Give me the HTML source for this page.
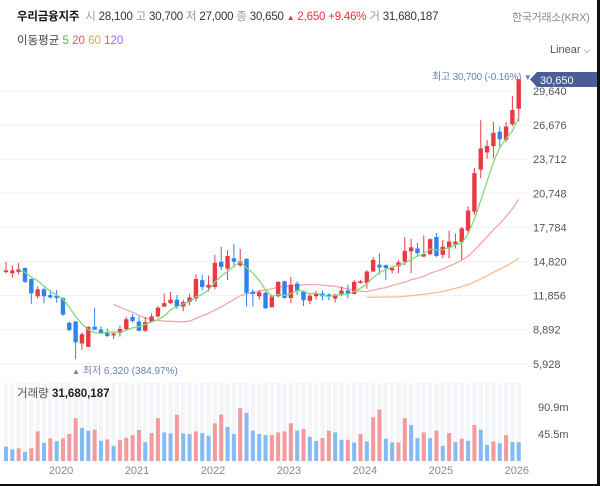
<!DOCTYPE html>
<html><head><meta charset="utf-8">
<style>
html,body{margin:0;padding:0;background:#fff;}
body{width:600px;height:486px;position:relative;overflow:hidden;font-family:"Liberation Sans","Noto Sans CJK KR",sans-serif;}
.t{position:absolute;white-space:nowrap;z-index:2;}
svg{position:absolute;left:0;top:0;z-index:1;}
</style></head>
<body>
<div class="t" style="left:17px;top:8px;font-size:11.5px;color:#333;letter-spacing:-0.2px;">
<b style="color:#111;">우리금융지주</b>
&nbsp;<span style="color:#999">시</span> 28,100 <span style="color:#999">고</span> 30,700 <span style="color:#999">저</span> 27,000 <span style="color:#999">종</span> 30,650 <span style="color:#e8323c"><span style="font-size:8px">▲</span> 2,650 +9.46%</span> <span style="color:#999">거</span> 31,680,187</div>
<div class="t" style="left:512px;top:9px;font-size:11px;color:#8a8a8a;letter-spacing:-0.3px;">한국거래소(KRX)</div>
<div class="t" style="left:17px;top:32px;font-size:11.5px;color:#444;">이동평균 <span style="color:#44c244">5</span> <span style="color:#f0555a">20</span> <span style="color:#f39a4a">60</span> <span style="color:#9b6bf0">120</span></div>
<div class="t" style="left:550px;top:44px;font-size:11px;color:#555;">Linear <span style="font-size:9px">&#x2335;</span></div>
<div class="t" style="left:432px;top:68px;font-size:10px;color:#6a7fb8;letter-spacing:-0.2px;">최고 30,700 (-0.16%) <span style="font-size:8px">▼</span></div>
<div class="t" style="left:72px;top:362px;font-size:10px;color:#6a7fb8;"><span style="font-size:8px">▲</span> 최저 6,320 (384.97%)</div>
<div class="t" style="left:17px;top:385px;font-size:11.5px;color:#555;">거래량 <b style="color:#222">31,680,187</b></div>
<svg id="chart" width="600" height="486"></svg>
<script>
const months=[];for(let i=0;i<82;i++)months.push(i);
const preCloses=[14000,14100];
const opens=[13900,13800,13900,14250,13300,11800,12400,11900,11850,11650,9500,9600,7700,7400,9150,8900,8600,8400,8600,8950,10000,9600,8800,9600,10050,10900,11200,11500,10900,11300,11600,13200,12550,12600,14800,14200,15100,14500,15050,12200,11800,12100,10850,11800,13100,11650,12900,12200,11400,11800,12050,11950,11600,11900,12300,12000,12950,12950,13950,14550,14500,14050,14400,14800,15700,15950,15250,15450,16950,15400,16000,16300,16500,17500,19150,22800,24300,24850,26100,25400,26750,28100];
const closes=[14050,14050,14150,13050,12050,12400,11800,11700,11650,10200,8850,7800,8500,9130,8900,8550,8350,8550,8950,9800,9650,8800,9550,10050,10800,11200,11500,10900,11300,11700,13300,12600,12800,14700,14350,15300,14800,14850,12100,12000,12150,10750,11800,13050,11650,12800,12300,11450,11850,12000,11800,11750,11950,12300,12050,13050,13100,13950,14950,14300,14250,14250,14750,15750,16050,15550,15450,16750,15300,16100,16550,16550,17700,19250,22500,24650,24850,26000,25450,26550,27990,30650];
const highs=[14800,14500,14700,14300,13350,12650,12550,12350,12350,11700,9600,9650,8650,9200,10800,9200,9000,8650,9250,10000,10250,10050,10000,10300,10950,12050,12200,11900,11500,12000,13700,13650,13600,15400,16100,15800,16350,15900,15100,12400,12350,12200,11950,13100,13150,13500,13100,12300,12000,12250,12300,12050,12000,12650,12800,13200,13200,14050,15200,15550,14550,14400,14950,16950,16800,16450,17100,16850,17300,16700,17500,17250,17800,19600,22950,27100,25400,26950,26550,26950,29200,30700];
const lows=[13800,13400,13700,12950,11150,11600,11200,11600,11250,10100,8800,6320,7150,7400,8850,8500,8250,8100,8300,8900,9500,8750,8700,9500,9950,10850,11100,10700,10500,11000,11350,12300,12200,12400,14050,13200,14300,14350,10900,10900,11500,10700,10800,11700,11600,11200,11900,10950,11100,11500,11450,11450,11250,11800,11600,11950,12900,12450,13900,13700,13200,13800,13800,14500,13800,15350,15200,15400,15200,15100,15100,15950,14950,17300,18900,22050,23750,23800,24800,25250,26600,27000];
const volumes=[24.4,19.8,21.5,15.3,21.5,49.9,30.6,38,33.5,38,45.4,72,55.6,51,52.7,34,36.3,25.5,35.2,39.1,43.7,52.2,31.8,47,72,48.2,46.5,77.7,46.5,45.4,49.9,47,42.5,63.5,78.2,57.3,45.4,89,81,51,45.4,43.7,43.7,48.2,49.9,63.5,51,53.9,40.8,33.5,38.6,51,48.2,35.7,35.7,31.2,45.4,32.9,73.7,86.8,37.4,31.2,31.2,72,60.7,38.6,48.2,38.6,51,25.5,47,31.8,37.4,34,60.7,52.7,27.2,32.9,30,43.7,31.8,31.68];
const priceTicks=[29640,26676,23712,20748,17784,14820,11856,8892,5928];
const priceTickLabels=["29,640","26,676","23,712","20,748","17,784","14,820","11,856","8,892","5,928"];
const volTicks=[90.9,45.5];
const volTickLabels=["90.9m","45.5m"];
const yearLabels=["2020","2021","2022","2023","2024","2025","2026"];
const yearIndex=[8.7,20.7,32.7,44.7,56.7,68.7,80.7];

const svg=document.getElementById('chart');
const NS='http://www.w3.org/2000/svg';
function mk(tag,attrs,parent){const e=document.createElementNS(NS,tag);for(const k in attrs)e.setAttribute(k,attrs[k]);(parent||svg).appendChild(e);return e;}
const X=i=>6+i*6.33;
const Y=p=>91+(29640-p)*(34.1/2964);
const YV=v=>461-v*(27/45.45);
const RED='#ea3a41',BLUE='#2f83ee';

for(let i=0;i<months.length;i++){
  const s=mk('rect',{x:X(i)-2.2,y:383,width:4.4,height:78,fill:'#f4f5f8'});
  
  
}
priceTicks.forEach((p,k)=>{
  const g=mk('line',{x1:0,x2:527,y1:Y(p),y2:Y(p),stroke:'#f0f0f0','stroke-width':1});
  
  
  const t=mk('text',{x:533,y:Y(p)+4,'font-size':11,fill:'#555','font-family':'Liberation Sans'});
  t.textContent=priceTickLabels[k];
  
  
});
volTicks.forEach((v,k)=>{
  const t=mk('text',{x:538,y:YV(v)+4,'font-size':11,fill:'#555','font-family':'Liberation Sans'});
  t.textContent=volTickLabels[k];
  
  
});
yearLabels.forEach((l,k)=>{
  const t=mk('text',{x:X(yearIndex[k]),y:474,'font-size':11,fill:'#888','text-anchor':'middle','font-family':'Liberation Sans'});
  t.textContent=l;
  
  
});
volumes.forEach((v,i)=>{
  const up=i===0?false:v>=volumes[i-1];
  const r=mk('rect',{x:X(i)-2,y:YV(v),width:4,height:461-YV(v),fill:up?'#f39a9e':'#84bbf5'});
  
  
});
const allC=preCloses.concat(closes);
function ma(n,color,name){
  let d='';
  for(let i=0;i<closes.length;i++){
    const j=i+preCloses.length;
    if(j<n-1)continue;
    let s=0;for(let k=j-n+1;k<=j;k++)s+=allC[k];
    d+=(d?'L':'M')+X(i).toFixed(1)+','+Y(s/n).toFixed(1);
  }
  if(!d)return;
  const p=mk('path',{d:d,fill:'none',stroke:color,'stroke-width':1.3});
  
  
}
ma(60,'#f8bd8f','ma60-line');
ma(20,'#f7a5a8','ma20-line');
closes.forEach((c,i)=>{
  const o=opens[i],up=c>=o,col=up?RED:BLUE;
  const w=mk('line',{x1:X(i),x2:X(i),y1:Y(highs[i]),y2:Y(lows[i]),stroke:col,'stroke-width':1});
  
  
  const top=Y(Math.max(o,c)),bot=Y(Math.min(o,c));
  const b=mk('rect',{x:X(i)-2.2,y:top,width:4.4,height:Math.max(1,bot-top),fill:col});
  
  
});
ma(5,'#7fd97f','ma5-line');
const tag=mk('path',{d:'M530,79.5 L537,72 L597,72 L597,87 L537,87 Z',fill:'#4a5d96'});


const tt=mk('text',{x:540,y:84,'font-size':11,fill:'#fff','font-family':'Liberation Sans'});
tt.textContent='30,650';


const br=mk('rect',{x:597,y:0,width:3,height:486,fill:'#111'});


const bb=mk('rect',{x:0,y:484,width:600,height:2,fill:'#111'});


</script>
</body></html>
